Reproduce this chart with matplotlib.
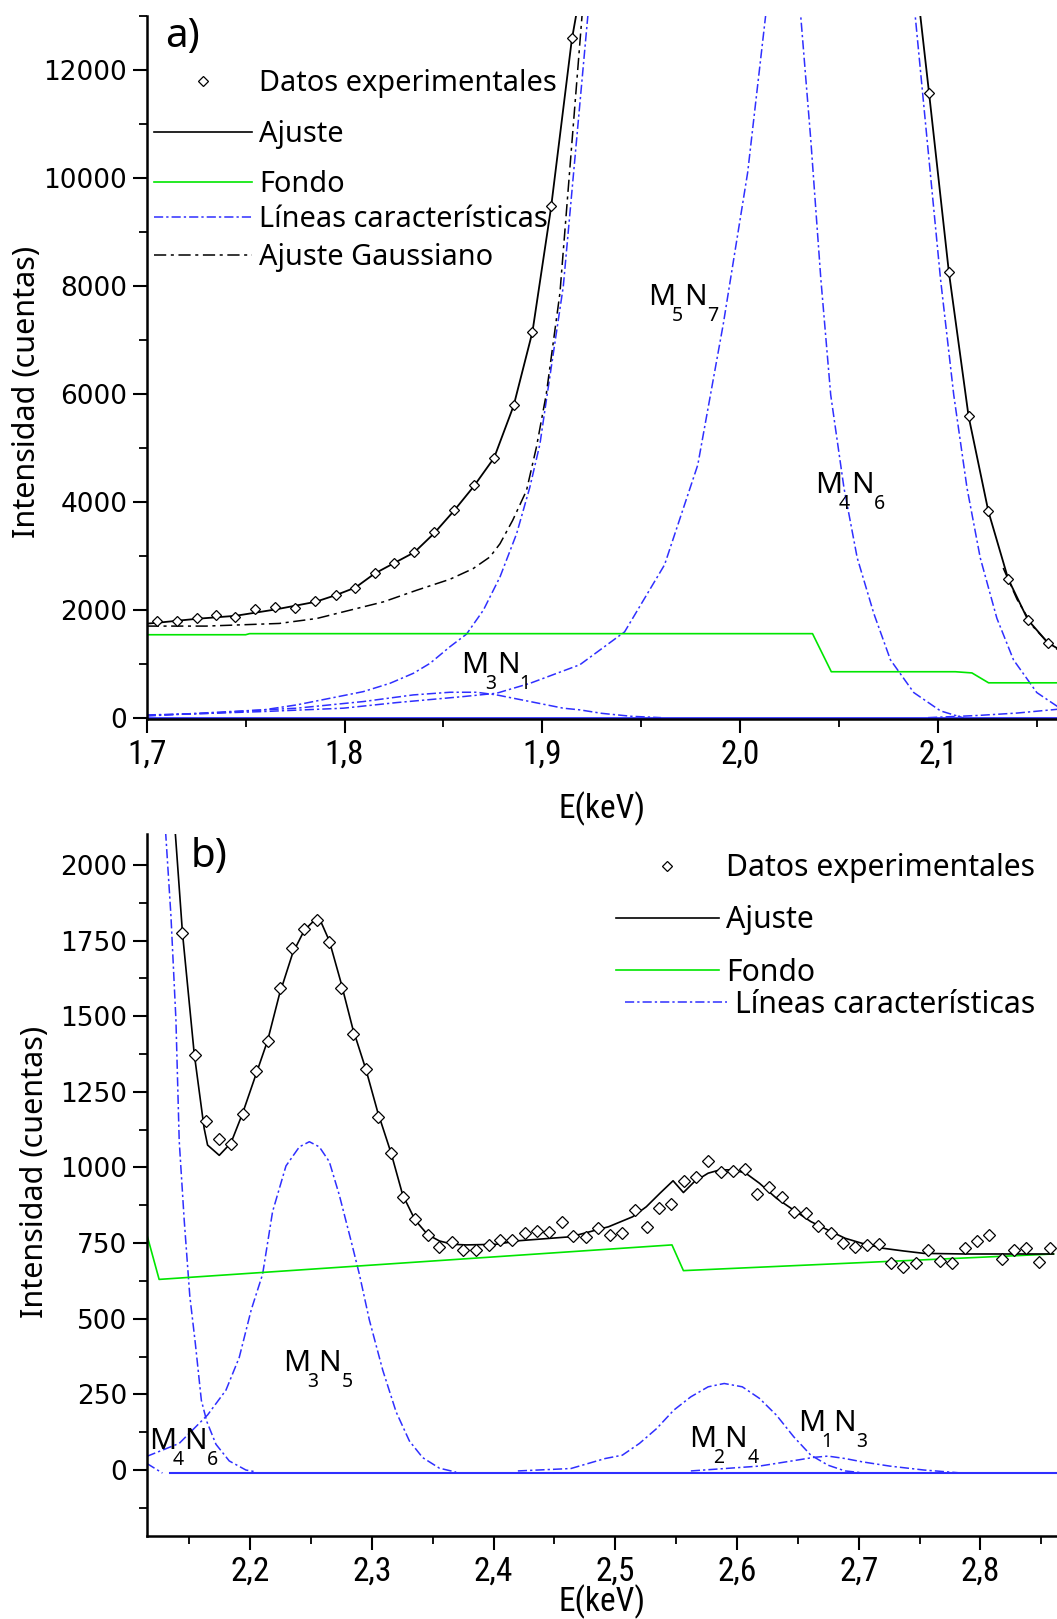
import os

import matplotlib
matplotlib.use('Agg')
import matplotlib.pyplot as plt
from matplotlib import font_manager
from matplotlib.font_manager import FontProperties
from matplotlib.ticker import MultipleLocator, FuncFormatter

# ---------------------------------------------------------------
# Fonts
# ---------------------------------------------------------------
TEXT = 'Noto Sans'


def _narrow_font():
    """Return a condensed sans font file if one is installed."""
    prefs = ['liberationsansnarrow-regular', 'liberationsansnarrow',
             'notosans-condensed.', 'notosanscondensed-regular',
             'opensans_condensed-regular', 'opensans-condensed-regular',
             'robotocondensed-regular', 'dejavusanscondensed.']
    files = [f.fname for f in font_manager.fontManager.ttflist]
    for p in prefs:
        for fn in files:
            if os.path.basename(fn).lower().startswith(p):
                return fn
    return None


_nf = _narrow_font()
if _nf:
    NARROW_PROP = FontProperties(fname=_nf, size=24)
    NARROW_LABEL = FontProperties(fname=_nf, size=24)
else:
    NARROW_PROP = FontProperties(family='DejaVu Sans', size=21)
    NARROW_LABEL = FontProperties(family='DejaVu Sans', size=21)

BLUE = '#2f2fff'
GREEN = '#00e600'
BLUE_DASH = (0, (6, 2, 1.5, 2))
GAUSS_DASH = (0, (8, 3, 2, 3))

# ---------------------------------------------------------------
# Panel a) 1.7 - 2.16 keV
# ---------------------------------------------------------------
a_data_x = [1.705, 1.7155, 1.7253, 1.735, 1.7448, 1.7549, 1.765, 1.7751, 1.7853,
            1.7955, 1.8055, 1.8152, 1.8252, 1.8353, 1.8451, 1.8552, 1.8653, 1.8756,
            1.8855, 1.895, 1.9044, 1.9149,
            2.0955, 2.1055, 2.1155, 2.1255, 2.1355, 2.1455, 2.1555]
a_data_y = [1803, 1803, 1852, 1902, 1871, 2025, 2055, 2031, 2172,
            2289, 2406, 2689, 2874, 3083, 3440, 3846, 4326, 4818,
            5797, 7144, 9475, 12588,
            11580, 8270, 5590, 3830, 2580, 1820, 1394]

a_fit_left_x = [1.700, 1.7051, 1.7253, 1.7448, 1.765, 1.7853, 1.7955, 1.8055, 1.8152,
                1.8252, 1.8353, 1.8451, 1.8552, 1.8653, 1.8756, 1.8855, 1.895, 1.9044,
                1.9149, 1.918]
a_fit_left_y = [1750, 1766, 1840, 1895, 2012, 2154, 2277, 2418, 2677,
                2874, 3071, 3415, 3834, 4290, 4818, 5785, 7150, 9450,
                12560, 13200]
a_fit_right_x = [2.0905, 2.0955, 2.1055, 2.1155, 2.1255, 2.1355, 2.1455, 2.1555, 2.1605]
a_fit_right_y = [13200, 11580, 8270, 5590, 3830, 2580, 1820, 1400, 1290]

a_bg_x = [1.700, 1.750, 1.752, 2.0366, 2.0461, 2.1088, 2.1172, 2.1256, 2.1605]
a_bg_y = [1545, 1545, 1565, 1565, 860, 860, 838, 655, 655]

a_gauss_left_x = [1.700, 1.730, 1.767, 1.786, 1.8028, 1.8197, 1.8365, 1.8533, 1.865,
                  1.8735, 1.8786, 1.885, 1.892, 1.897, 1.902, 1.9089, 1.9205]
a_gauss_left_y = [1705, 1705, 1754, 1846, 2000, 2154, 2369, 2572, 2769,
                  2985, 3230, 3662, 4215, 5015, 6000, 7870, 13200]
a_gauss_right_x = [2.133, 2.140, 2.148, 2.155, 2.1605]
a_gauss_right_y = [2780, 2200, 1700, 1420, 1270]

# characteristic lines (partly off scale)
a_wide_left_x = [1.700, 1.7337, 1.759, 1.7758, 1.7927, 1.8095, 1.823, 1.8348, 1.8432,
                 1.8533, 1.8617, 1.8702, 1.8786, 1.887, 1.8937, 1.8988, 1.902, 1.9106,
                 1.9235]
a_wide_left_y = [60, 92, 154, 246, 369, 492, 646, 831, 1015,
                 1323, 1557, 2000, 2615, 3415, 4277, 5077, 5877, 7993,
                 13200]
a_wide_right_x = [2.0880, 2.0945, 2.1013, 2.108, 2.1147, 2.1214, 2.1298, 2.1382, 2.150, 2.1605]
a_wide_right_y = [13200, 10719, 8135, 5985, 4263, 2968, 1850, 1080, 474, 215]
a_m5n7_x = [1.700, 1.7084, 1.759, 1.7994, 1.8264, 1.860, 1.8769, 1.8938, 1.919,
            1.9416, 1.9618, 1.9786, 1.9915, 2.0038, 2.0135]
a_m5n7_y = [55, 62, 123, 185, 289, 400, 462, 646, 990,
            1598, 2840, 4690, 7300, 10100, 13200]
a_m4n6_x = [2.0302, 2.0357, 2.0408, 2.0458, 2.0525, 2.0592, 2.0676, 2.076, 2.0878,
            2.1013, 2.113]
a_m4n6_y = [13200, 10719, 8135, 5985, 4263, 2968, 1937, 1080, 474,
            135, 5]
a_m3n1_x = [1.700, 1.7421, 1.7758, 1.8095, 1.8348, 1.8533, 1.8668, 1.8769, 1.8938,
            1.9106, 1.919, 1.930, 1.945, 1.960]
a_m3n1_y = [40, 123, 185, 308, 431, 480, 480, 431, 308,
            185, 154, 90, 35, 10]
a_tail_x = [2.095, 2.120, 2.140, 2.1605]
a_tail_y = [10, 50, 95, 165]
a_base_x = [1.700, 2.1605]
a_base_y = [0, 0]

# ---------------------------------------------------------------
# Panel b) 2.12 - 2.86 keV
# ---------------------------------------------------------------
b_data_x = [2.1445, 2.1547, 2.1642, 2.1747, 2.1843, 2.1944, 2.2049, 2.2144, 2.2246,
            2.2345, 2.2446, 2.2550, 2.2645, 2.2747, 2.2849, 2.2953, 2.3054, 2.3159,
            2.3254, 2.3356, 2.3459, 2.3556, 2.3657, 2.3753, 2.3857, 2.3959, 2.4055,
            2.4153, 2.4256, 2.4354, 2.4459, 2.4560, 2.4653, 2.4757, 2.4856, 2.4957,
            2.5058, 2.5160, 2.5261, 2.5356, 2.5461, 2.5565, 2.5664, 2.5763, 2.5866,
            2.5965, 2.6063, 2.6165, 2.6263, 2.6368, 2.6466, 2.6568, 2.6669, 2.6771,
            2.6869, 2.6967, 2.7072, 2.7170, 2.7269, 2.7368, 2.7471, 2.7570, 2.7671,
            2.7770, 2.7874, 2.7973, 2.8071, 2.8175, 2.8274, 2.8372, 2.8479, 2.8572]
b_data_y = [1774, 1371, 1154, 1095, 1077, 1178, 1320, 1419, 1594,
            1726, 1788, 1818, 1745, 1594, 1442, 1325, 1168, 1047,
            902, 830, 778, 737, 753, 727, 727, 744, 761,
            761, 785, 790, 788, 819, 775, 771, 801, 777,
            784, 859, 802, 865, 879, 955, 967, 1022, 986,
            988, 995, 912, 936, 903, 854, 848, 806, 784,
            749, 738, 744, 747, 683, 670, 683, 727, 692,
            683, 735, 757, 777, 696, 727, 735, 686, 735]

b_fit_x = [2.1385, 2.1445, 2.1541, 2.1623, 2.1651, 2.1747, 2.1843, 2.1938, 2.2049,
           2.2144, 2.2240, 2.2350, 2.2446, 2.2514, 2.2583, 2.2651, 2.2747, 2.2843,
           2.2953, 2.3048, 2.3159, 2.3254, 2.3356, 2.3459, 2.3556, 2.3665, 2.3775,
           2.4022, 2.4213, 2.4636, 2.4945, 2.5143, 2.5255, 2.5368, 2.5475, 2.5560,
           2.5650, 2.5763, 2.5860, 2.5973, 2.6072, 2.6184, 2.6325, 2.6466, 2.6607,
           2.6748, 2.6888, 2.7030, 2.7198, 2.7368, 2.7536, 2.7874, 2.8156, 2.8600]
b_fit_y = [2110, 1774, 1377, 1129, 1074, 1040, 1081, 1178, 1308,
           1419, 1570, 1708, 1784, 1811, 1811, 1749, 1611, 1460,
           1322, 1184, 1047, 909, 826, 778, 757, 746, 744,
           746, 758, 771, 804, 837, 870, 915, 956, 917,
           953, 981, 992, 992, 981, 948, 898, 859, 821,
           793, 766, 749, 733, 724, 716, 714, 714, 714]

b_bg_x = [2.1144, 2.1253, 2.5466, 2.5560, 2.8600]
b_bg_y = [790, 630, 744, 659, 714]

b_m4n6_x = [2.1306, 2.1350, 2.1391, 2.1418, 2.1459, 2.1505, 2.1550, 2.1600, 2.1645,
            2.1720, 2.1829, 2.1966, 2.2049]
b_m4n6_y = [2110, 1832, 1488, 1088, 826, 575, 420, 230, 160,
            85, 30, 0, -6]
b_edge_x = [2.1151, 2.128]
b_edge_y = [22, -10]
b_m3n5_x = [2.1151, 2.1418, 2.1651, 2.1802, 2.1911, 2.2010, 2.2103, 2.2185, 2.2295,
            2.2405, 2.2487, 2.2569, 2.2651, 2.2733, 2.2830, 2.2898, 2.2980, 2.3090,
            2.3200, 2.3309, 2.3418, 2.3556, 2.3693]
b_m3n5_y = [45, 88, 182, 264, 372, 530, 647, 854, 1005,
            1068, 1085, 1068, 1019, 909, 757, 647, 496, 330,
            192, 96, 41, 6, -7]
b_m2n4_x = [2.4200, 2.4636, 2.4917, 2.5058, 2.5199, 2.5340, 2.5481, 2.5621, 2.5763,
            2.5895, 2.6044, 2.6184, 2.6325, 2.6466, 2.6607, 2.6748, 2.6888, 2.7030]
b_m2n4_y = [-3, 5, 38, 49, 88, 137, 198, 242, 275,
            286, 275, 237, 181, 110, 49, 16, -3, -9]
b_m1n3_x = [2.5621, 2.6184, 2.6466, 2.6635, 2.6748, 2.6888, 2.7030, 2.7255, 2.7536, 2.7818]
b_m1n3_y = [-3, 13, 31, 42, 46, 38, 27, 13, 0, -9]
b_base_x = [2.134, 2.863]
b_base_y = [-10, -10]

# transition labels: (M index, N index, x, y)
a_labels = [('3', '1', 1.8591, 839),
            ('5', '7', 1.9536, 7644),
            ('4', '6', 2.0381, 4165)]
b_labels = [('3', '5', 2.2272, 328),
            ('4', '6', 2.1169, 68),
            ('2', '4', 2.5607, 75),
            ('1', '3', 2.6499, 130)]


def comma(v, _pos):
    return f'{v:.1f}'.replace('.', ',')


def transition(ax, m, n, x, y):
    """Write M_m N_n with low, separated subscripts."""
    parts = [('M', 0, 0, 21.5), (m, 17, -11.5, 14), ('N', 25.5, 0, 21.5), (n, 42, -11.5, 14)]
    for s, dx, dy, size in parts:
        ax.annotate(s, xy=(x, y), xytext=(dx, dy), textcoords='offset points',
                    fontsize=size, family=TEXT, ha='left', va='baseline')


def style_axes(ax, xmajor, xminor, ymajor, yminor):
    for side in ('top', 'right'):
        ax.spines[side].set_visible(False)
    for side in ('left', 'bottom'):
        ax.spines[side].set_linewidth(1.8)
    ax.xaxis.set_major_locator(MultipleLocator(xmajor))
    ax.xaxis.set_minor_locator(MultipleLocator(xminor))
    ax.yaxis.set_major_locator(MultipleLocator(ymajor))
    ax.yaxis.set_minor_locator(MultipleLocator(yminor))
    ax.xaxis.set_major_formatter(FuncFormatter(comma))
    ax.tick_params(which='major', direction='out', length=10, width=1.5, pad=4)
    ax.tick_params(which='minor', direction='out', length=6, width=1.3)
    for lab in ax.get_yticklabels():
        lab.set_fontfamily('DejaVu Sans')
        lab.set_fontsize(19)
    for lab in ax.get_xticklabels():
        lab.set_fontproperties(NARROW_PROP)


def blue(ax, x, y):
    ax.plot(x, y, color=BLUE, lw=1.1, linestyle=BLUE_DASH)


def legend_block(ax, handles, labels, loc, anchor, spacing, size):
    return ax.legend(handles, labels, loc=loc, bbox_to_anchor=anchor, frameon=False,
                     borderpad=0, borderaxespad=0, handlelength=3.4, handletextpad=0.25,
                     labelspacing=spacing, prop={'family': TEXT, 'size': size},
                     numpoints=1)


fig = plt.figure(figsize=(10.57, 16.19), dpi=100)
ax1 = fig.add_axes([0.1388, 0.5559, 0.8612, 0.4342])
ax2 = fig.add_axes([0.1388, 0.05127, 0.8612, 0.4336])

h_data = plt.Line2D([], [], ls='none', marker='D', ms=5, mfc='white', mec='black', mew=0.9)
h_fit = plt.Line2D([], [], color='black', lw=1.2)
h_bg = plt.Line2D([], [], color=GREEN, lw=1.2)
h_lines = plt.Line2D([], [], color=BLUE, lw=1.1, linestyle=BLUE_DASH)
h_gauss = plt.Line2D([], [], color='black', lw=1.1, linestyle=GAUSS_DASH)

# ---- panel a
ax1.plot(a_base_x, a_base_y, color=BLUE, lw=2.0)
blue(ax1, a_wide_left_x, a_wide_left_y)
blue(ax1, a_wide_right_x, a_wide_right_y)
blue(ax1, a_m5n7_x, a_m5n7_y)
blue(ax1, a_m4n6_x, a_m4n6_y)
blue(ax1, a_m3n1_x, a_m3n1_y)
blue(ax1, a_tail_x, a_tail_y)
ax1.plot(a_bg_x, a_bg_y, color=GREEN, lw=1.2)
ax1.plot(a_gauss_left_x, a_gauss_left_y, color='black', lw=1.1, linestyle=GAUSS_DASH)
ax1.plot(a_gauss_right_x, a_gauss_right_y, color='black', lw=1.1, linestyle=GAUSS_DASH)
ax1.plot(a_fit_left_x, a_fit_left_y, color='black', lw=1.3)
ax1.plot(a_fit_right_x, a_fit_right_y, color='black', lw=1.3)
ax1.plot(a_data_x, a_data_y, 'D', ms=5, mfc='white', mec='black', mew=0.9)

leg = legend_block(ax1, [h_data, h_fit, h_bg], ['Datos experimentales', 'Ajuste', 'Fondo'],
                   'upper left', (0.008, 0.924), 0.74, 20.8)
ax1.add_artist(leg)
legend_block(ax1, [h_lines, h_gauss], ['Líneas características', 'Ajuste Gaussiano'],
             'upper left', (0.008, 0.7306), 0.31, 20.8)

for m, n, x, y in a_labels:
    transition(ax1, m, n, x, y)
ax1.text(0.020, 0.9566, 'a)', transform=ax1.transAxes, fontsize=29,
         family=TEXT, ha='left', va='baseline')

ax1.set_xlim(1.7, 2.1602)
ax1.set_ylim(-15, 13000)
style_axes(ax1, 0.1, 0.05, 2000, 1000)
ax1.set_xlabel('E(keV)', fontproperties=NARROW_LABEL)
ax1.set_ylabel('Intensidad (cuentas)', fontsize=22, family=TEXT)
ax1.xaxis.set_label_coords(0.5005, -0.103)
ax1.yaxis.set_label_coords(-0.1148, 0.465)

# ---- panel b
ax2.plot(b_base_x, b_base_y, color=BLUE, lw=1.5)
blue(ax2, b_m4n6_x, b_m4n6_y)
blue(ax2, b_edge_x, b_edge_y)
blue(ax2, b_m3n5_x, b_m3n5_y)
blue(ax2, b_m2n4_x, b_m2n4_y)
blue(ax2, b_m1n3_x, b_m1n3_y)
ax2.plot(b_bg_x, b_bg_y, color=GREEN, lw=1.2)
ax2.plot(b_fit_x, b_fit_y, color='black', lw=1.2)
ax2.plot(b_data_x, b_data_y, 'D', ms=6, mfc='white', mec='black', mew=0.9)

leg = legend_block(ax2, [h_data, h_fit, h_bg], ['Datos experimentales', 'Ajuste', 'Fondo'],
                   'upper right', (0.976, 0.9727), 0.74, 21.7)
ax2.add_artist(leg)
legend_block(ax2, [h_lines], ['Líneas características'],
             'upper right', (0.976, 0.7779), 0.31, 21.7)

for m, n, x, y in b_labels:
    transition(ax2, m, n, x, y)
ax2.text(0.0487, 0.953, 'b)', transform=ax2.transAxes, fontsize=29,
         family=TEXT, ha='left', va='baseline')

ax2.set_xlim(2.1151, 2.8629)
ax2.set_ylim(-218, 2102)
style_axes(ax2, 0.1, 0.05, 250, 125)
ax2.set_xlabel('E(keV)', fontproperties=NARROW_LABEL)
ax2.set_ylabel('Intensidad (cuentas)', fontsize=22, family=TEXT)
ax2.xaxis.set_label_coords(0.5005, -0.069)
ax2.yaxis.set_label_coords(-0.1057, 0.518)

fig.savefig('out.png', dpi=100)
